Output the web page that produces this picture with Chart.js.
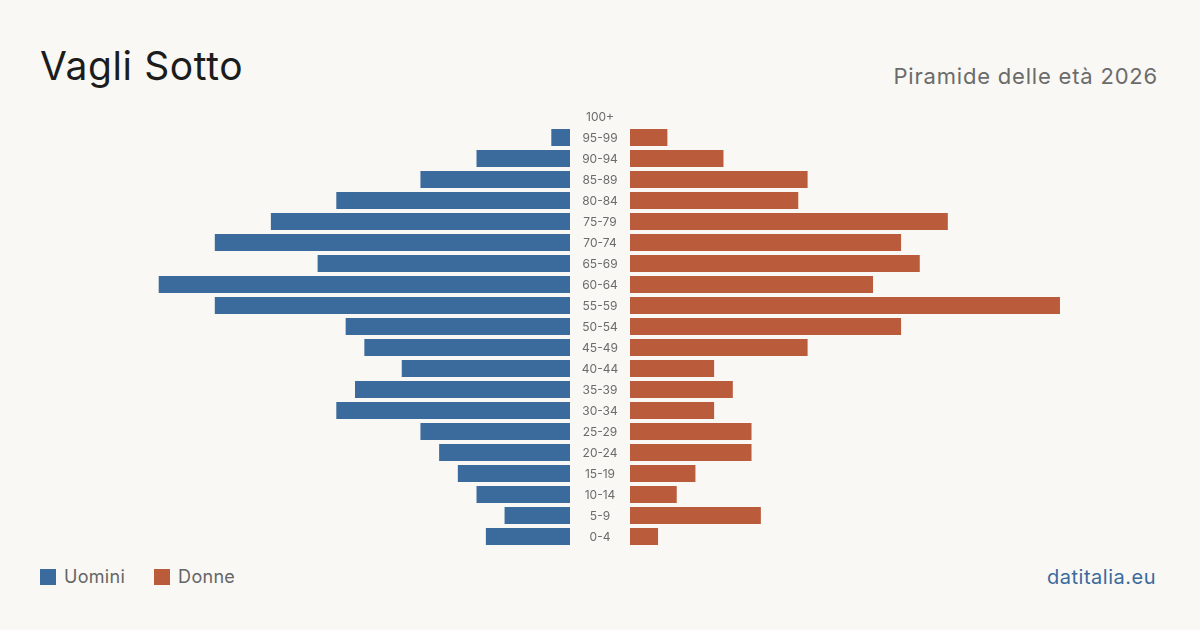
<!DOCTYPE html>
<html>
<head>
<meta charset="utf-8">
<script src="https://cdn.jsdelivr.net/npm/chart.js@4/dist/chart.umd.min.js"></script>
<style>
  body { margin: 0; background: #f9f8f4; font-family: Inter, "Noto Sans", sans-serif; }
  #wrap { position: relative; width: 1200px; height: 630px; overflow: hidden; }
  .title { position: absolute; left: 40px; top: 42px; font-size: 39px; color: #1c1c1c; letter-spacing: 0.6px; }
  .sub { position: absolute; right: 42px; top: 63px; font-size: 22px; color: #6b6b6b; letter-spacing: 0.8px; }
  .legend { position: absolute; left: 40px; top: 566px; font-size: 18px; color: #666; display: flex; align-items: center; letter-spacing: 0.3px; }
  .legend span.sw { width: 16px; height: 16px; display: inline-block; margin-right: 8px; }
  .legend span.lb { margin-right: 29px; }
  .brand { position: absolute; right: 44px; top: 565px; font-size: 20px; color: #3b6a9c; letter-spacing: 0.5px; }
  #left { position: absolute; left: 40px; top: 106px; }
  #right { position: absolute; left: 570px; top: 106px; }
</style>
</head>
<body>
<div id="wrap">
  <div class="title">Vagli Sotto</div>
  <div class="sub">Piramide delle età 2026</div>
  <div class="legend">
    <span class="sw" style="background:#3b6a9c"></span><span class="lb">Uomini</span>
    <span class="sw" style="background:#ba5c3c"></span><span class="lb">Donne</span>
  </div>
  <div class="brand">datitalia.eu</div>
  <div id="left" style="width:530px;height:441px"><canvas id="menChart"></canvas></div>
  <div id="right" style="width:590px;height:441px"><canvas id="womenChart"></canvas></div>
</div>
<script>
const ageGroups = ['100+', '95-99', '90-94', '85-89', '80-84', '75-79', '70-74', '65-69', '60-64', '55-59', '50-54',
  '45-49', '40-44', '35-39', '30-34', '25-29', '20-24', '15-19', '10-14', '5-9', '0-4'];
const men = [0, 2, 10, 16, 25, 32, 38, 27, 44, 38, 24, 22, 18, 23, 25, 16, 14, 12, 10, 7, 9];
const women = [0, 4, 10, 19, 18, 34, 29, 31, 26, 46, 29, 19, 9, 11, 9, 13, 13, 7, 5, 14, 3];
const axisMax = 56.7;

const menColor = '#3b6a9c';
const womenColor = '#ba5c3c';

const common = {
  indexAxis: 'y',
  responsive: true,
  maintainAspectRatio: false,
  animation: false,
  plugins: { legend: { display: false }, tooltip: { enabled: false } }
};

// age labels centred in the gap left of the women's plot area
const ageLabels = {
  id: 'ageLabels',
  afterDraw(chart) {
    const { ctx, chartArea } = chart;
    const y = chart.scales.y;
    ctx.save();
    ctx.font = '12px Inter';
    ctx.fillStyle = '#6b6b6b';
    ctx.textAlign = 'center';
    ctx.textBaseline = 'middle';
    chart.data.labels.forEach((lab, i) => {
      ctx.fillText(lab, chartArea.left - 30, y.getPixelForValue(i) + 1);
    });
    ctx.restore();
  }
};

new Chart(document.getElementById('menChart'), {
  type: 'bar',
  data: {
    labels: ageGroups,
    datasets: [{ label: 'Uomini', data: men, backgroundColor: menColor, barPercentage: 0.81, categoryPercentage: 1 }]
  },
  options: {
    ...common,
    layout: { padding: 0 },
    scales: {
      x: { reverse: true, min: 0, max: axisMax, display: false },
      y: { display: false }
    }
  }
});

new Chart(document.getElementById('womenChart'), {
  type: 'bar',
  data: {
    labels: ageGroups,
    datasets: [{ label: 'Donne', data: women, backgroundColor: womenColor, barPercentage: 0.81, categoryPercentage: 1 }]
  },
  options: {
    ...common,
    layout: { padding: { left: 60 } },
    scales: {
      x: { min: 0, max: axisMax, display: false },
      y: { display: false }
    }
  },
  plugins: [ageLabels]
});
</script>
</body>
</html>
